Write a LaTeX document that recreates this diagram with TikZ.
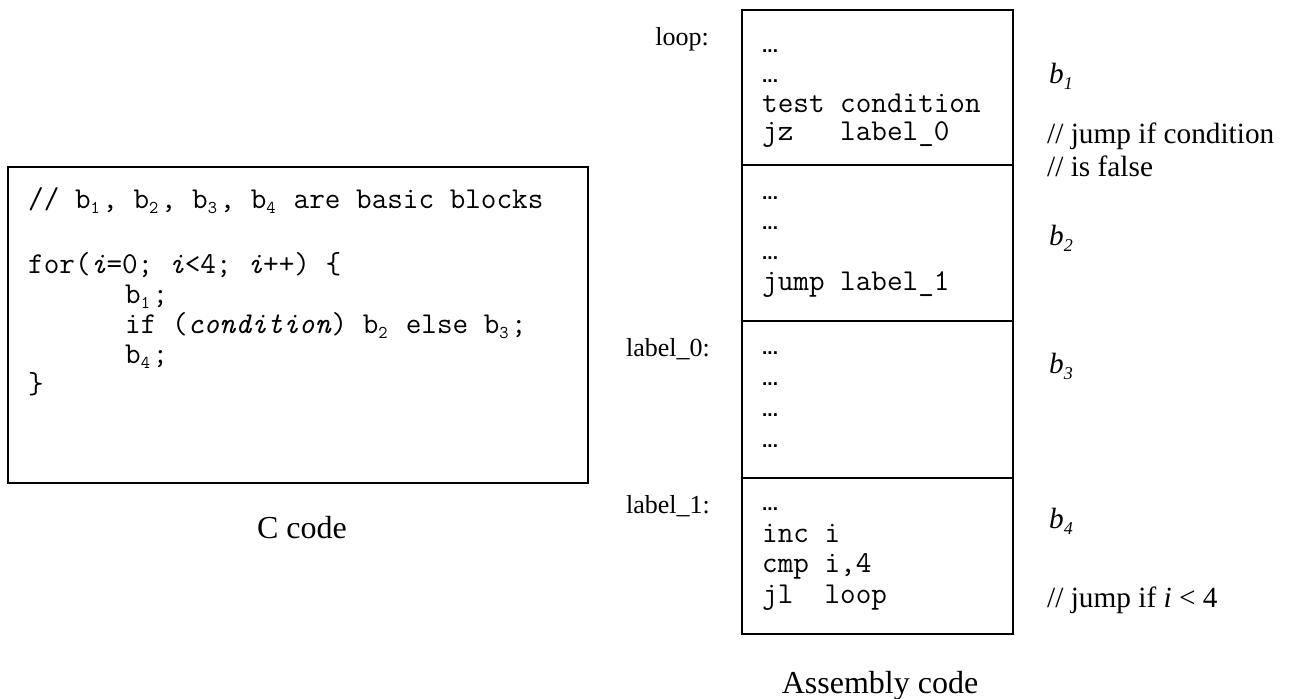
\documentclass[tikz,border=0pt]{standalone}
\usepackage{fontspec}
\setmainfont{Liberation Serif}
\newfontfamily\dotfont{Liberation Sans}
\newcommand{\tsub}[1]{\smash{\raisebox{-0.17em}{\fontsize{18}{18}\selectfont #1}}\kern 2.5pt{}}
\newcommand{\isub}[1]{\smash{\raisebox{-0.22em}{\fontsize{18}{18}\selectfont\itshape #1}}}
\tikzset{
 box/.style={draw, line width=2pt, inner sep=0pt, anchor=north west},
 code/.style={font=\ttfamily\fontsize{30.3}{30}\selectfont, anchor=base west, inner sep=0pt},
 dts/.style={font=\dotfont\bfseries\fontsize{19}{19}\selectfont, anchor=base west, inner sep=0pt},
 lbl/.style={font=\fontsize{26}{26}\selectfont, anchor=base east, inner sep=0pt},
 cmt/.style={font=\fontsize{29.3}{29}\selectfont, anchor=base west, inner sep=0pt},
 capt/.style={font=\fontsize{32}{32}\selectfont, anchor=base, inner sep=0pt},
}
\begin{document}
\begin{tikzpicture}[x=1pt,y=-1pt]
\useasboundingbox[fill=white] (0,0) rectangle (1291,699);
% C code box
\node[box, minimum width=580pt, minimum height=316pt] (cbox) at (7,166) {};
\node[code] (c1) at (28,208) {// b\tsub{1}, b\tsub{2}, b\tsub{3}, b\tsub{4} are basic blocks};
\node[code] (c2) at (28,273) {for(\textit{i}=0; \textit{i}<4; \textit{i}++) \{};
\node[code] (c3) at (125,303) {b\tsub{1};};
\node[code] (c4) at (125,333) {if (\textit{condition}) b\tsub{2} else b\tsub{3};};
\node[code] (c5) at (125,363) {b\tsub{4};};
\node[code] (c6) at (28,393) {\}};
\node[capt] (ccap) at (302,538) {C code};
% Assembly blocks
\node[box, minimum width=271pt, minimum height=155pt] (blk1) at (741,9) {};
\node[box, minimum width=271pt, minimum height=156pt] (blk2) at (741,164) {};
\node[box, minimum width=271pt, minimum height=157pt] (blk3) at (741,320) {};
\node[box, minimum width=271pt, minimum height=156pt] (blk4) at (741,477) {};
% block 1
\node[dts] (a1) at (762,52) {...};
\node[dts] (a2) at (762,82) {...};
\node[code] (a3) at (762,112) {test condition};
\node[code] (a4) at (762,140) {jz\ \ \ label\_0};
% block 2
\node[dts] (a5) at (762,199) {...};
\node[dts] (a6) at (762,229) {...};
\node[dts] (a7) at (762,259) {...};
\node[code] (a8) at (762,290) {jump label\_1};
% block 3
\node[dts] (a9) at (762,354) {...};
\node[dts] (a10) at (762,385) {...};
\node[dts] (a11) at (762,416) {...};
\node[dts] (a12) at (762,447) {...};
% block 4
\node[dts] (a13) at (762,510) {...};
\node[code] (a14) at (762,542) {inc i};
\node[code] (a15) at (762,572) {cmp i,4};
\node[code] (a16) at (762,603) {jl\ \ loop};
% labels
\node[lbl] (l1) at (709,45) {loop:};
\node[lbl] (l2) at (710,356) {label\_0:};
\node[lbl] (l3) at (710,513) {label\_1:};
% comments
\node[cmt] (b1) at (1049,83) {\textit{b}\isub{1}};
\node[cmt] (k1) at (1047,143) {// jump if condition};
\node[cmt] (k2) at (1047,176) {// is false};
\node[cmt] (b2) at (1049,245) {\textit{b}\isub{2}};
\node[cmt] (b3) at (1049,373) {\textit{b}\isub{3}};
\node[cmt] (b4) at (1049,528) {\textit{b}\isub{4}};
\node[cmt] (k3) at (1047,607) {// jump if \textit{i} < 4};
\node[capt] (acap) at (880,693) {Assembly code};
\end{tikzpicture}
\end{document}
